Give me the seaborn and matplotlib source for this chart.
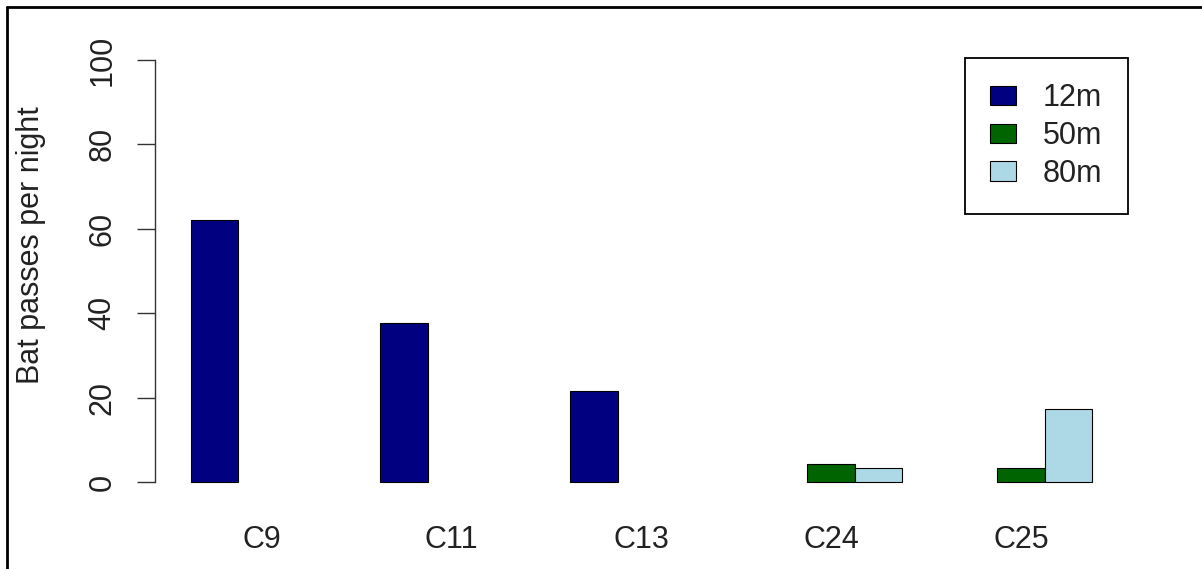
# -*- coding: utf-8 -*-
"""Bat passes per night by site and recording height."""
import numpy as np
import pandas as pd
import matplotlib
matplotlib.use('Agg')
import matplotlib.pyplot as plt
from matplotlib.lines import Line2D
import seaborn as sns

SITES = ['C9', 'C11', 'C13', 'C24', 'C25']
HEIGHTS = ['12m', '50m', '80m']
# passes per night for each height, NaN where nothing was recorded
PASSES_12M = [62.0, 37.6, 21.6, np.nan, np.nan]
PASSES_50M = [np.nan, np.nan, np.nan, 4.3, 3.4]
PASSES_80M = [np.nan, np.nan, np.nan, 3.4, 17.4]
COLORS = ['#000080', '#006400', '#add8e6']
Y_TICKS = [0, 20, 40, 60, 80, 100]

W, H = 1202, 569


def main():
    data = pd.DataFrame({
        'site': SITES * 3,
        'height': [h for h in HEIGHTS for _ in SITES],
        'passes': PASSES_12M + PASSES_50M + PASSES_80M,
    })

    sns.set_style('white')
    plt.rcParams['font.family'] = ['Liberation Sans', 'DejaVu Sans']
    text_col = '#222222'

    fig = plt.figure(figsize=(W / 100, H / 100), dpi=100)
    # plot region in pixels: x 155..1127.6, y 43.1..498.9
    ax = fig.add_axes([155 / W, 1 - 498.9 / H, 972.6 / W, 455.8 / H])

    sns.barplot(
        data=data, x='site', y='passes', hue='height',
        order=SITES, hue_order=HEIGHTS, palette=COLORS,
        width=0.75, saturation=1, errorbar=None,
        edgecolor='black', linewidth=0.8, ax=ax,
    )

    ax.set_xlim(-0.5625, 4.5625)
    ax.set_ylim(-4, 104)
    ax.set_yticks(Y_TICKS)
    ax.set_yticklabels([str(t) for t in Y_TICKS], rotation=90, va='center')
    for side in ['top', 'right', 'bottom']:
        ax.spines[side].set_visible(False)
    ax.spines['left'].set_bounds(0, 100)
    ax.spines['left'].set_color('#333333')
    ax.spines['left'].set_linewidth(1.0)
    ax.tick_params(axis='y', length=13, width=1.0, color='#333333',
                   pad=14, labelsize=22, labelcolor=text_col, left=True)
    ax.tick_params(axis='x', length=0, pad=19, labelsize=22, labelcolor=text_col)

    ax.set_xlabel('')
    ax.set_ylabel('Bat passes per night', fontsize=22, color=text_col)
    ax.yaxis.set_label_coords(-0.112, 0.557)

    ax.legend_.remove()
    leg = ax.legend(
        loc='upper right', bbox_to_anchor=(1127.6 / W, 1 - 58 / H),
        bbox_transform=fig.transFigure, borderaxespad=0, fontsize=22,
        fancybox=False, framealpha=1, edgecolor='black',
        handlelength=0.85, handleheight=0.6, handletextpad=0.9,
        labelspacing=0.26, borderpad=0.82,
    )
    leg.get_frame().set_linewidth(1.3)
    for txt in leg.get_texts():
        txt.set_color(text_col)

    # border of the original screenshot (top and left only)
    fig.add_artist(Line2D([7 / W, 1], [1 - 7 / H] * 2, transform=fig.transFigure,
                          color='black', lw=2))
    fig.add_artist(Line2D([7 / W] * 2, [0, 1 - 7 / H], transform=fig.transFigure,
                          color='black', lw=2))

    fig.savefig('out.png', dpi=100)
    plt.close(fig)


if __name__ == '__main__':
    main()
